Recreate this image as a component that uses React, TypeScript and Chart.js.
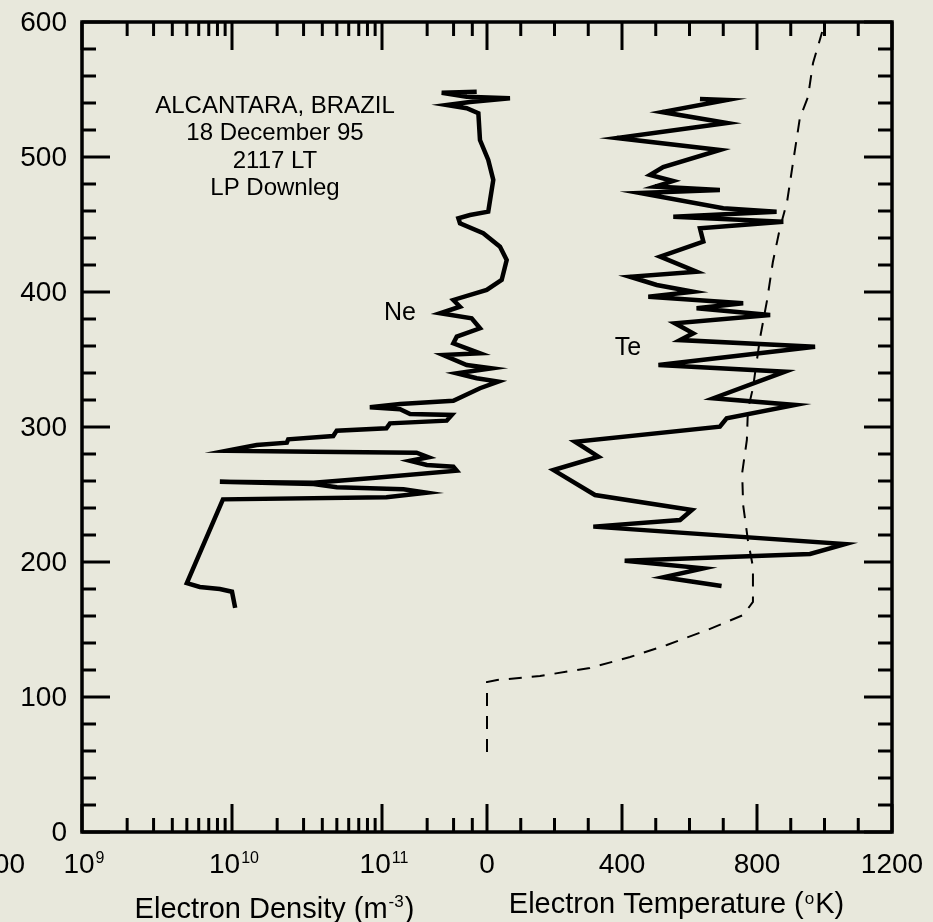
import React, { useEffect, useRef } from 'react';
import { Chart, registerables } from 'chart.js';

Chart.register(...registerables);

// ---- Data ----
// Electron density profile (m^-3) vs altitude (km)
const NE_DENSITY = [
  1.05e10, 1.0e10, 8.3e9, 6.1e9, 5.0e9, 8.7e9, 1.07e11, 1.99e11, 1.39e11, 5.0e10,
  3.5e10, 8.3e9, 3.5e10, 8.3e10, 3.15e11, 2.99e11, 1.99e11, 1.54e11, 2.04e11, 1.7e11,
  3.5e10, 9.2e9, 1.46e10, 2.32e10, 2.37e10, 4.73e10, 4.99e10, 1.07e11, 1.13e11, 2.7e11,
  2.92e11, 1.54e11, 1.32e11, 8.3e10, 1.32e11, 2.99e11, 4.5e11, 5.96e11, 4.28e11, 3.15e11,
  5.38e11, 3.67e11, 2.56e11, 4.5e11, 2.99e11, 3.15e11, 4.5e11, 3.96e11, 2.44e11, 3.31e11,
  2.99e11, 4.99e11, 6.28e11, 6.78e11, 6.12e11, 4.73e11, 3.31e11, 3.23e11, 3.86e11, 5.11e11,
  5.52e11, 5.11e11, 4.5e11, 4.39e11, 3.67e11, 2.7e11, 3.86e11, 7.13e11, 3.67e11, 2.5e11,
  4.28e11,
];
const NE_ALTITUDE = [
  166, 178, 180, 181.5, 184.4, 246.4, 247.9, 251.3, 253.9, 255.3,
  257.8, 259.5, 258.7, 262, 267.6, 270.6, 271.9, 275, 277.6, 281,
  281.6, 282.4, 286.7, 288.4, 290.9, 293.3, 297.3, 299, 302.7, 304.7,
  308.9, 309.6, 313.1, 314.6, 317, 319.5, 328.7, 333.6, 336.1, 339.8,
  343.5, 345.9, 353.3, 354.6, 362, 366.9, 373.1, 380.5, 384.2, 389.1,
  394.1, 401.5, 408.9, 423.7, 433.6, 443.5, 450.9, 454.6, 457, 459.5,
  483, 497.8, 512.6, 532.4, 536.1, 538.5, 540.8, 543.5, 544.7, 547.6,
  548.4,
];

// Electron temperature profile (K) vs altitude (km)
const TE_TEMPERATURE = [
  695, 522, 641, 408, 957, 1061, 315, 572, 607, 320,
  197, 330, 261, 690, 710, 913, 671, 883, 508, 972,
  572, 611, 557, 839, 621, 759, 478, 611, 503, 424,
  621, 513, 641, 631, 878, 552, 858, 700, 453, 690,
  498, 551, 483, 522, 690, 385, 711, 519, 711, 631,
];
const TE_ALTITUDE = [
  182.2, 188.7, 195.3, 201, 205.9, 213.3, 226.2, 231.1, 238.5, 249.6,
  268.1, 278, 289.1, 300.2, 306.4, 316.3, 321.3, 341, 345.9, 359.5,
  364.4, 369.4, 376.8, 383, 387.9, 391.6, 396.5, 400.2, 405.2, 411.3,
  415, 426.2, 437.3, 447.2, 452.1, 455.8, 459.5, 462, 473.3, 475.6,
  478.1, 482.2, 486.7, 492.6, 505.2, 514.1, 525.2, 533.3, 542.2, 543,
];

// Model temperature (dashed) vs altitude
const MODEL_TEMPERATURE = [
  0, 0, 30, 157, 305, 424, 533, 652, 759, 788, 788, 773, 759, 756,
  770, 773, 788, 809, 830, 847, 868, 889, 907, 927, 951, 966, 993,
];
const MODEL_ALTITUDE = [
  59.3, 111.1, 112.6, 115.6, 121.5, 129.6, 138.5, 149.6, 160.7, 170.4, 196.3, 216.3, 242.2, 265.9,
  290.4, 312.6, 328.9, 365.9, 394.1, 422.2, 447.4, 466.7, 496.3, 528.9, 544.4, 569.6, 592.6,
];

// Axis ticks / labels
const Y_TICKS = [0, 100, 200, 300, 400, 500, 600];
const TEMP_TICKS = [0, 400, 800, 1200];
const DENSITY_TICK_EXPONENTS = [9, 10, 11];
const ANNOTATION_LINES = ['ALCANTARA, BRAZIL', '18 December 95', '2117 LT', 'LP Downleg'];
const CUT_LABEL = '00';

const FONT = "'Liberation Sans', Arial, Helvetica, sans-serif";
const BG = 'rgb(232, 232, 220)';

type Seg = { text: string; size: number; rise?: number };

function drawRich(ctx: CanvasRenderingContext2D, segs: Seg[], cx: number, baseline: number) {
  let total = 0;
  const widths = segs.map((s) => {
    ctx.font = `${s.size}px ${FONT}`;
    const w = ctx.measureText(s.text).width;
    total += w;
    return w;
  });
  total += (segs.length - 1) * 1;
  let x = cx - total / 2;
  ctx.textAlign = 'left';
  ctx.textBaseline = 'alphabetic';
  segs.forEach((s, i) => {
    ctx.font = `${s.size}px ${FONT}`;
    ctx.fillText(s.text, x, baseline - (s.rise || 0));
    x += widths[i] + 1;
  });
}

const framePlugin = {
  id: 'frameAndLabels',
  beforeDraw(chart: any) {
    const ctx = chart.ctx as CanvasRenderingContext2D;
    ctx.save();
    ctx.fillStyle = BG;
    ctx.fillRect(0, 0, chart.width, chart.height);
    ctx.restore();
  },
  afterDatasetsDraw(chart: any) {
    const ctx = chart.ctx as CanvasRenderingContext2D;
    const { left, right, top, bottom } = chart.chartArea;
    const yS = chart.scales.y;
    const xT = chart.scales.xT;
    const xD = chart.scales.xD;
    const MAJ = 28;
    const MIN = 14;
    ctx.save();
    ctx.strokeStyle = '#000';
    ctx.fillStyle = '#000';
    ctx.lineCap = 'butt';
    ctx.lineWidth = 3;
    const line = (x1: number, y1: number, x2: number, y2: number) => {
      ctx.beginPath();
      ctx.moveTo(x1, y1);
      ctx.lineTo(x2, y2);
      ctx.stroke();
    };
    const vtick = (px: number, len: number) => {
      line(px, bottom, px, bottom - len);
      line(px, top, px, top + len);
    };
    const htick = (py: number, len: number) => {
      line(left, py, left + len, py);
      line(right, py, right - len, py);
    };
    // y ticks: majors at labels, minors every fifth
    for (let i = 0; i < Y_TICKS.length; i++) {
      htick(yS.getPixelForValue(Y_TICKS[i]), MAJ);
      if (i < Y_TICKS.length - 1) {
        const step = (Y_TICKS[i + 1] - Y_TICKS[i]) / 5;
        for (let k = 1; k < 5; k++) htick(yS.getPixelForValue(Y_TICKS[i] + k * step), MIN);
      }
    }
    // temperature ticks
    for (let i = 0; i < TEMP_TICKS.length; i++) {
      vtick(xT.getPixelForValue(TEMP_TICKS[i]), MAJ);
      if (i < TEMP_TICKS.length - 1) {
        const step = (TEMP_TICKS[i + 1] - TEMP_TICKS[i]) / 4;
        for (let k = 1; k < 4; k++) vtick(xT.getPixelForValue(TEMP_TICKS[i] + k * step), MIN);
      }
    }
    // density ticks
    const zeroPx = xT.getPixelForValue(0);
    DENSITY_TICK_EXPONENTS.forEach((e) => {
      vtick(xD.getPixelForValue(Math.pow(10, e)), MAJ);
      for (let k = 2; k <= 9; k++) {
        const px = xD.getPixelForValue(k * Math.pow(10, e));
        if (px < zeroPx - 4) vtick(px, MIN);
      }
    });
    // frame
    ctx.lineWidth = 3.5;
    ctx.lineJoin = 'miter';
    ctx.strokeRect(left, top, right - left, bottom - top);

    // y tick labels
    ctx.font = `28px ${FONT}`;
    ctx.textAlign = 'right';
    ctx.textBaseline = 'middle';
    Y_TICKS.forEach((v) => ctx.fillText(String(v), left - 15, yS.getPixelForValue(v) + 1));

    // x tick labels
    const labelBase = bottom + 41;
    ctx.textAlign = 'center';
    ctx.textBaseline = 'alphabetic';
    ctx.font = `28px ${FONT}`;
    TEMP_TICKS.forEach((v) => ctx.fillText(String(v), xT.getPixelForValue(v), labelBase));
    DENSITY_TICK_EXPONENTS.forEach((e) => {
      drawRich(
        ctx,
        [
          { text: '10', size: 28 },
          { text: String(e), size: 16, rise: 10 },
        ],
        xD.getPixelForValue(Math.pow(10, e)) + 2,
        labelBase
      );
    });
    ctx.font = `28px ${FONT}`;
    ctx.textAlign = 'right';
    ctx.fillText(CUT_LABEL, left - 57, labelBase);

    // axis titles
    drawRich(
      ctx,
      [
        { text: 'Electron Density (m', size: 29 },
        { text: '-3', size: 17, rise: 11 },
        { text: ')', size: 29 },
      ],
      (left + zeroPx) / 2 - 10,
      bottom + 86
    );
    drawRich(
      ctx,
      [
        { text: 'Electron Temperature (', size: 29 },
        { text: 'o', size: 17, rise: 9 },
        { text: 'K)', size: 29 },
      ],
      (zeroPx + right) / 2 - 13,
      bottom + 81
    );

    // annotations
    ctx.textAlign = 'center';
    ctx.font = `24px ${FONT}`;
    const annX = left + 193;
    const baselines = [113, 140, 168, 195];
    ANNOTATION_LINES.forEach((t, i) => ctx.fillText(t, annX, baselines[i]));
    ctx.font = `25px ${FONT}`;
    ctx.fillText('Ne', 400, 320);
    ctx.fillText('Te', 628, 355);
    ctx.restore();
  },
};

export default function App() {
  const ref = useRef<HTMLCanvasElement | null>(null);
  useEffect(() => {
    document.body.style.margin = '0';
    document.body.style.background = BG;
    const canvas = ref.current;
    if (!canvas) return;
    const chart = new Chart(canvas, {
      type: 'scatter',
      data: {
        datasets: [
          {
            label: 'Ne',
            data: NE_DENSITY.map((d, i) => ({ x: d, y: NE_ALTITUDE[i] })),
            xAxisID: 'xD',
            yAxisID: 'y',
            showLine: true,
            borderColor: '#000',
            borderWidth: 4.5,
            pointRadius: 0,
            tension: 0,
          },
          {
            label: 'Te',
            data: TE_TEMPERATURE.map((t, i) => ({ x: t, y: TE_ALTITUDE[i] })),
            xAxisID: 'xT',
            yAxisID: 'y',
            showLine: true,
            borderColor: '#000',
            borderWidth: 4.5,
            pointRadius: 0,
            tension: 0,
          },
          {
            label: 'Model',
            data: MODEL_TEMPERATURE.map((t, i) => ({ x: t, y: MODEL_ALTITUDE[i] })),
            xAxisID: 'xT',
            yAxisID: 'y',
            showLine: true,
            borderColor: '#000',
            borderWidth: 2,
            borderDash: [13, 10],
            pointRadius: 0,
            tension: 0,
          },
        ],
      },
      options: {
        responsive: false,
        devicePixelRatio: 1,
        animation: false,
        layout: { padding: { left: 82, top: 22, right: 41, bottom: 90 } },
        plugins: { legend: { display: false }, tooltip: { enabled: false } },
        scales: {
          y: { type: 'linear', min: 0, max: 600, display: false },
          xT: { type: 'linear', axis: 'x', position: 'bottom', min: -1200, max: 1200, display: false },
          xD: {
            type: 'logarithmic',
            axis: 'x',
            position: 'bottom',
            min: 1e9,
            max: Math.pow(10, 14.4),
            display: false,
          },
        },
      },
      plugins: [framePlugin],
    });
    return () => chart.destroy();
  }, []);
  return <canvas ref={ref} width={933} height={922} style={{ display: 'block' }} />;
}
